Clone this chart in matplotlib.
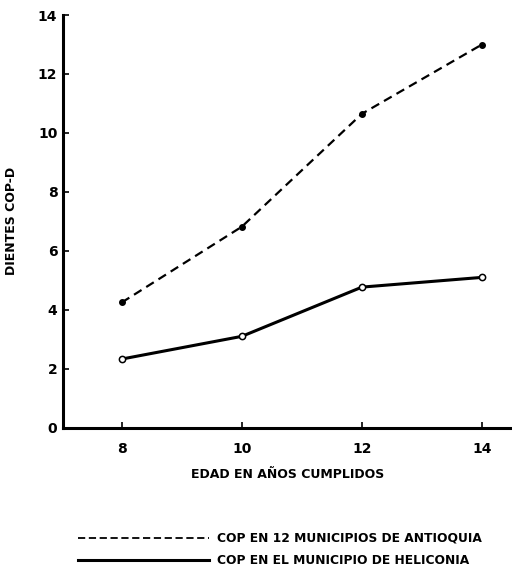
import matplotlib
matplotlib.use("Agg")
import matplotlib.pyplot as plt
from matplotlib.lines import Line2D

plt.rcParams['font.family'] = ['Liberation Sans Narrow', 'DejaVu Sans']
plt.rcParams['font.weight'] = 'bold'
plt.rcParams['axes.labelweight'] = 'bold'

# edades y dientes COP-D
edad = [8, 10, 12, 14]
cop_antioquia = [4.25, 6.82, 10.65, 13.0]
cop_heliconia = [2.33, 3.1, 4.77, 5.1]

xticks = [8, 10, 12, 14]
yticks = [0, 2, 4, 6, 8, 10, 12, 14]
labels = ['COP EN 12 MUNICIPIOS DE ANTIOQUIA', 'COP EN EL MUNICIPIO DE HELICONIA']

fig = plt.figure(figsize=(5.12, 5.78), dpi=100)
ax = fig.add_axes([0.123, 0.26, 0.877, 0.714])

ax.plot(edad, cop_antioquia, color='black', lw=1.6, ls=(0, (4, 2.5)),
        marker='o', ms=4, mfc='black', mec='black')
ax.plot(edad, cop_heliconia, color='black', lw=2.2,
        marker='o', ms=4.5, mfc='white', mec='black', mew=1.1)

ax.set_xlim(7.02, 14.5)
ax.set_ylim(0, 14)
ax.set_xticks(xticks)
ax.set_yticks(yticks)
ax.tick_params(direction='in', length=4, width=1.2, labelsize=10)
ax.tick_params(axis='x', pad=10)
ax.tick_params(axis='y', pad=4)

for s in ['top', 'right']:
    ax.spines[s].set_visible(False)
ax.spines['left'].set_linewidth(2.2)
ax.spines['bottom'].set_linewidth(2.2)

ax.set_xlabel('EDAD EN AÑOS CUMPLIDOS', fontsize=9, labelpad=9)
ax.set_ylabel('DIENTES COP-D', fontsize=9, labelpad=14)

# leyenda a mano
fig.add_artist(Line2D([0.152, 0.408], [0.069, 0.069], color='black', lw=1.3, ls=(0, (4, 2))))
fig.add_artist(Line2D([0.152, 0.408], [0.031, 0.031], color='black', lw=2.2))
fig.text(0.424, 0.069, labels[0], fontsize=8.8, va='center', ha='left')
fig.text(0.424, 0.031, labels[1], fontsize=8.8, va='center', ha='left')

fig.savefig('out.png', dpi=100)
